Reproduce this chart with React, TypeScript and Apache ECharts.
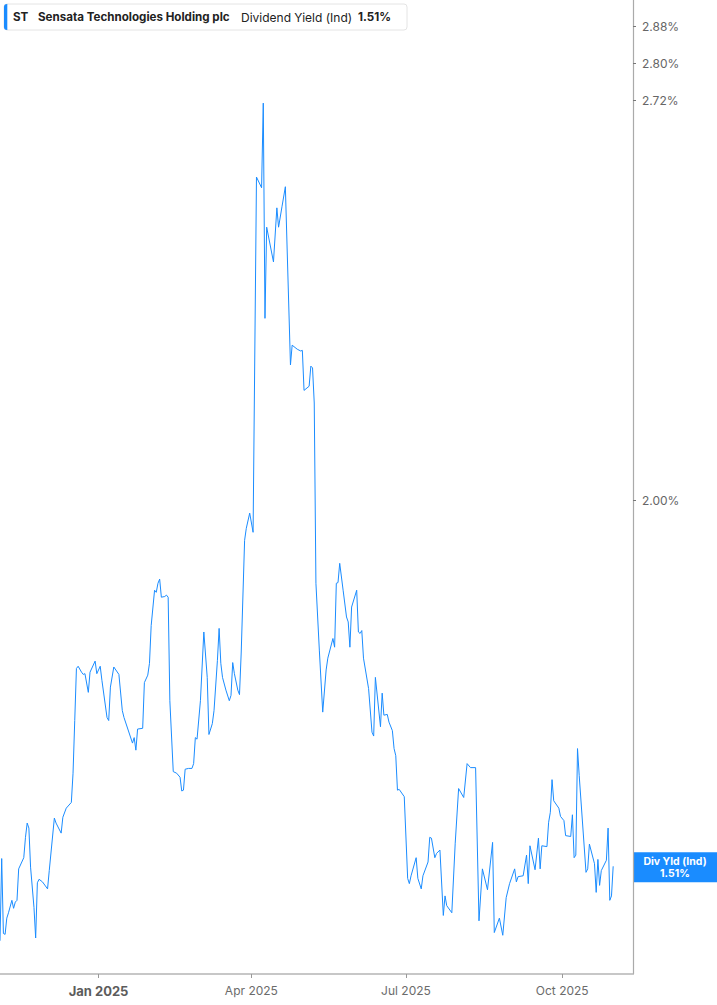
import * as echarts from "echarts"
import { useEffect, useRef } from "react"

// ST dividend yield (indicated), Nov 2024 - Oct 2025, on a log scale like the source chart.
const ticker = "ST"
const company = "Sensata Technologies Holding plc"
const metric = "Dividend Yield (Ind)"
const endTitle = "Div Yld (Ind)"

const dates = [
  "2024-11-04", "2024-11-05", "2024-11-06", "2024-11-07", "2024-11-08", "2024-11-09", "2024-11-11", "2024-11-12",
  "2024-11-13", "2024-11-14", "2024-11-15", "2024-11-18", "2024-11-19", "2024-11-20", "2024-11-21", "2024-11-22",
  "2024-11-24", "2024-11-25", "2024-11-26", "2024-11-27", "2024-11-29", "2024-12-02", "2024-12-03", "2024-12-06",
  "2024-12-07", "2024-12-10", "2024-12-11", "2024-12-13", "2024-12-16", "2024-12-17", "2024-12-18", "2024-12-19",
  "2024-12-20", "2024-12-22", "2024-12-23", "2024-12-24", "2024-12-26", "2024-12-27", "2024-12-30", "2024-12-31",
  "2025-01-02", "2025-01-03", "2025-01-06", "2025-01-07", "2025-01-08", "2025-01-10", "2025-01-13", "2025-01-15",
  "2025-01-16", "2025-01-21", "2025-01-22", "2025-01-23", "2025-01-24", "2025-01-27", "2025-01-28", "2025-01-30",
  "2025-01-31", "2025-02-01", "2025-02-03", "2025-02-04", "2025-02-05", "2025-02-06", "2025-02-07", "2025-02-09",
  "2025-02-10", "2025-02-11", "2025-02-12", "2025-02-14", "2025-02-16", "2025-02-18", "2025-02-19", "2025-02-20",
  "2025-02-21", "2025-02-23", "2025-02-25", "2025-02-26", "2025-02-27", "2025-02-28", "2025-03-02", "2025-03-04",
  "2025-03-06", "2025-03-07", "2025-03-09", "2025-03-10", "2025-03-12", "2025-03-13", "2025-03-14", "2025-03-15",
  "2025-03-17", "2025-03-19", "2025-03-20", "2025-03-21", "2025-03-22", "2025-03-24", "2025-03-25", "2025-03-26",
  "2025-03-28", "2025-03-29", "2025-03-31", "2025-04-02", "2025-04-04", "2025-04-07", "2025-04-08", "2025-04-09",
  "2025-04-10", "2025-04-14", "2025-04-16", "2025-04-17", "2025-04-19", "2025-04-21", "2025-04-24", "2025-04-25",
  "2025-04-28", "2025-04-30", "2025-05-01", "2025-05-02", "2025-05-05", "2025-05-06", "2025-05-07", "2025-05-08",
  "2025-05-09", "2025-05-11", "2025-05-13", "2025-05-15", "2025-05-16", "2025-05-19", "2025-05-20", "2025-05-21",
  "2025-05-22", "2025-05-23", "2025-05-25", "2025-05-27", "2025-05-28", "2025-05-29", "2025-05-30", "2025-06-02",
  "2025-06-03", "2025-06-04", "2025-06-05", "2025-06-06", "2025-06-09", "2025-06-11", "2025-06-12", "2025-06-13",
  "2025-06-16", "2025-06-17", "2025-06-18", "2025-06-20", "2025-06-21", "2025-06-23", "2025-06-24", "2025-06-25",
  "2025-06-26", "2025-06-27", "2025-06-30", "2025-07-02", "2025-07-03", "2025-07-04", "2025-07-07", "2025-07-08",
  "2025-07-10", "2025-07-11", "2025-07-14", "2025-07-15", "2025-07-16", "2025-07-18", "2025-07-19", "2025-07-21",
  "2025-07-23", "2025-07-24", "2025-07-25", "2025-07-28", "2025-07-30", "2025-08-01", "2025-08-04", "2025-08-06",
  "2025-08-08", "2025-08-11", "2025-08-13", "2025-08-15", "2025-08-18", "2025-08-21", "2025-08-22", "2025-08-25",
  "2025-08-27", "2025-08-29", "2025-08-31", "2025-09-03", "2025-09-04", "2025-09-05", "2025-09-08", "2025-09-10",
  "2025-09-11", "2025-09-12", "2025-09-15", "2025-09-17", "2025-09-18", "2025-09-19", "2025-09-22", "2025-09-23",
  "2025-09-24", "2025-09-25", "2025-09-26", "2025-09-29", "2025-09-30", "2025-10-02", "2025-10-03", "2025-10-06",
  "2025-10-07", "2025-10-08", "2025-10-09", "2025-10-10", "2025-10-11", "2025-10-15", "2025-10-16", "2025-10-17",
  "2025-10-20", "2025-10-21", "2025-10-22", "2025-10-23", "2025-10-24", "2025-10-27", "2025-10-28", "2025-10-29",
  "2025-10-30", "2025-10-31",
]

// yield in %
const yieldPct = [
  1.426, 1.519, 1.434, 1.433, 1.451, 1.457, 1.471, 1.462,
  1.469, 1.471, 1.507, 1.520, 1.544, 1.561, 1.555, 1.509,
  1.463, 1.429, 1.491, 1.495, 1.492, 1.484, 1.505, 1.567,
  1.561, 1.549, 1.568, 1.579, 1.586, 1.622, 1.689, 1.758,
  1.761, 1.753, 1.750, 1.751, 1.726, 1.753, 1.768, 1.751,
  1.761, 1.742, 1.693, 1.689, 1.733, 1.760, 1.750, 1.702,
  1.693, 1.660, 1.667, 1.651, 1.678, 1.679, 1.739, 1.749,
  1.765, 1.817, 1.867, 1.864, 1.877, 1.883, 1.857, 1.858,
  1.860, 1.857, 1.715, 1.624, 1.622, 1.617, 1.600, 1.601,
  1.627, 1.628, 1.628, 1.634, 1.667, 1.665, 1.715, 1.808,
  1.746, 1.671, 1.685, 1.702, 1.769, 1.813, 1.765, 1.746,
  1.729, 1.715, 1.722, 1.766, 1.751, 1.729, 1.723, 1.779,
  1.940, 1.958, 1.981, 1.952, 2.565, 2.544, 2.715, 2.301,
  2.468, 2.403, 2.505, 2.468, 2.507, 2.546, 2.220, 2.254,
  2.247, 2.244, 2.245, 2.177, 2.184, 2.218, 2.215, 2.156,
  1.877, 1.783, 1.700, 1.756, 1.772, 1.799, 1.787, 1.877,
  1.878, 1.906, 1.867, 1.829, 1.822, 1.787, 1.843, 1.867,
  1.808, 1.806, 1.810, 1.772, 1.731, 1.674, 1.669, 1.746,
  1.681, 1.725, 1.696, 1.697, 1.687, 1.676, 1.653, 1.644,
  1.601, 1.602, 1.593, 1.496, 1.490, 1.499, 1.520, 1.496,
  1.484, 1.499, 1.515, 1.544, 1.543, 1.520, 1.525, 1.529,
  1.454, 1.476, 1.465, 1.457, 1.537, 1.603, 1.592, 1.634,
  1.629, 1.629, 1.448, 1.507, 1.483, 1.538, 1.435, 1.451,
  1.432, 1.474, 1.490, 1.507, 1.492, 1.498, 1.499, 1.523,
  1.490, 1.534, 1.506, 1.543, 1.507, 1.534, 1.533, 1.562,
  1.574, 1.614, 1.588, 1.579, 1.569, 1.564, 1.546, 1.545,
  1.571, 1.520, 1.523, 1.653, 1.619, 1.503, 1.507, 1.536,
  1.513, 1.480, 1.518, 1.488, 1.505, 1.517, 1.555, 1.471,
  1.476, 1.51,
]

const yTicks = [2.0, 2.72, 2.8, 2.88]
const xTicks = ["2025-01-01", "2025-04-01", "2025-07-01", "2025-10-01"]
const xStart = "2024-11-04"
const xEnd = "2025-11-11"
const yMin = 1.39
const yMax = 2.939

const BLUE = "#1a8cff"
const MONTHS = ["Jan", "Feb", "Mar", "Apr", "May", "Jun", "Jul", "Aug", "Sep", "Oct", "Nov", "Dec"]

const ts = (s: string) => {
  const [y, m, d] = s.split("-").map(Number)
  return new Date(y, m - 1, d).getTime()
}

export default function App() {
  const ref = useRef<HTMLDivElement>(null)

  useEffect(() => {
    if (!ref.current) return
    const chart = echarts.init(ref.current, null, { renderer: "svg" })
    const last = yieldPct[yieldPct.length - 1]
    const xTickVals = xTicks.map(ts)

    // x is a plain value axis over timestamps so the quarter ticks can be placed with customValues
    chart.setOption({
      animation: false,
      textStyle: { fontFamily: "Inter, sans-serif" },
      grid: { left: 0, right: 84, top: 0, bottom: 31 },
      xAxis: {
        type: "value",
        min: ts(xStart),
        max: ts(xEnd) + 16 * 3600 * 1000,
        axisLine: { lineStyle: { color: "#b5b5b5", width: 1.5 } },
        axisTick: { show: true, customValues: xTickVals, length: 4, lineStyle: { color: "#999" } },
        axisLabel: {
          customValues: xTickVals,
          margin: 10,
          color: "#6b6b6b",
          fontSize: 12,
          formatter: (v: number) => {
            const d = new Date(v)
            const s = `${MONTHS[d.getMonth()]} ${d.getFullYear()}`
            return d.getMonth() === 0 ? `{b|${s}}` : s
          },
          rich: { b: { fontWeight: "bold", fontSize: 13, color: "#5c5c5c", fontFamily: "Inter, sans-serif" } },
        },
        splitLine: { show: false },
      },
      yAxis: {
        type: "log",
        logBase: 10,
        position: "right",
        min: yMin,
        max: yMax,
        axisLine: { show: true, lineStyle: { color: "#aaa", width: 1.2 } },
        axisTick: { show: true, customValues: yTicks, length: 3, lineStyle: { color: "#777" } },
        axisLabel: {
          customValues: yTicks,
          margin: 9,
          color: "#666",
          fontSize: 12,
          formatter: (v: number) => `${v.toFixed(2)}%`,
        },
        splitLine: { show: false },
      },
      series: [
        {
          type: "line",
          data: dates.map((d, i) => [ts(d), yieldPct[i]]),
          symbol: "none",
          lineStyle: { width: 1, color: BLUE },
          itemStyle: { color: BLUE },
        },
      ],
    })

    const yLast = chart.convertToPixel({ yAxisIndex: 0 }, last) as number
    const headText = (x: number, text: string, bold: boolean) => ({
      type: "text",
      x,
      y: 17,
      style: {
        text,
        fill: "#222",
        font: bold ? "bold 11.6px Inter, sans-serif" : "12px Inter, sans-serif",
        verticalAlign: "middle",
      },
    })
    const tagText = (dy: number, text: string) => ({
      type: "text",
      x: 675,
      y: yLast + dy,
      style: { text, fill: "#fff", font: "bold 10.5px Inter, sans-serif", align: "center", verticalAlign: "middle" },
    })

    chart.setOption({
      graphic: [
        { type: "rect", shape: { x: 4, y: 4, width: 403, height: 26, r: 3 }, style: { fill: "#fff", stroke: "#e4e4e4", lineWidth: 1 } },
        { type: "rect", shape: { x: 4, y: 4, width: 3.3, height: 26, r: [3, 0, 0, 3] }, style: { fill: BLUE } },
        headText(13, ticker, true),
        headText(38, company, true),
        headText(241, metric, false),
        headText(358, `${last.toFixed(2)}%`, true),
        { type: "rect", shape: { x: 633, y: yLast - 14, width: 84, height: 30 }, style: { fill: BLUE } },
        tagText(-5, endTitle),
        tagText(7.5, `${last.toFixed(2)}%`),
      ],
    })

    return () => chart.dispose()
  }, [])

  return <div ref={ref} style={{ position: "absolute", left: 0, top: 0, width: 717, height: 1005 }} />
}
